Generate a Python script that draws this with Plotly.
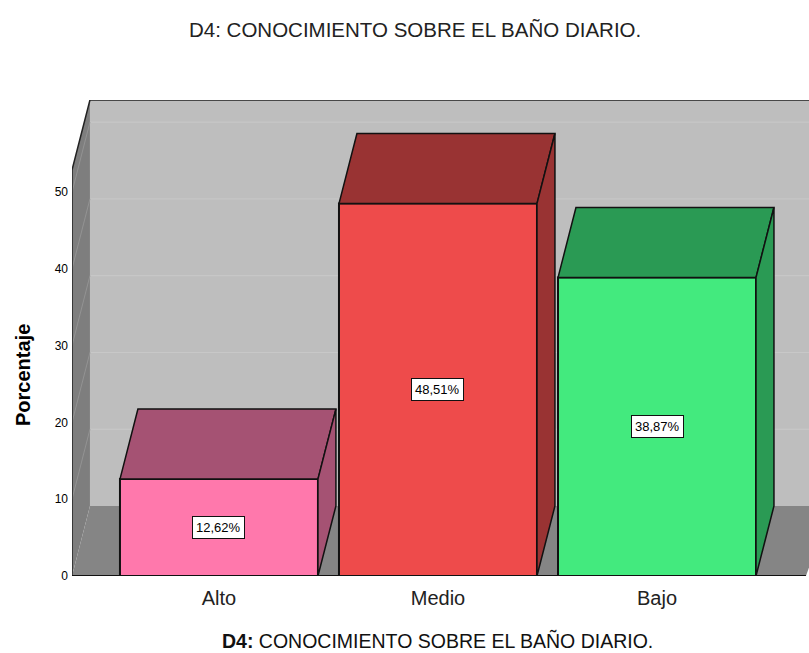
import plotly.graph_objects as go

title = "D4: CONOCIMIENTO SOBRE EL BAÑO DIARIO."
x_title = "<b>D4:</b> CONOCIMIENTO SOBRE EL BAÑO DIARIO."
y_title = "<b>Porcentaje</b>"
categories = ["Alto", "Medio", "Bajo"]
values = [12.62, 48.51, 38.87]
labels = ["12,62%", "48,51%", "38,87%"]
y_ticks = [0, 10, 20, 30, 40, 50]
front_colors = ["#FF78AC", "#EE4B4B", "#43EA7E"]
dark_colors = ["#A55273", "#993333", "#2A9A54"]

W, H = 809, 653
ML, MR, MT, MB = 72, 0, 100, 77
BAR_W = 0.904
DX, DY = 0.082, 9.12
X0, X1 = -0.671, 2.694
Y1 = 62.0
WALL_TOP = Y1 - DY
xs = list(range(len(categories)))

def px_x(p):
    return (p - ML) / (W - ML)

def px_y(p):
    return (H - MB - p) / (H - MT - MB)

def poly(px, py, color):
    path = "M " + " L ".join(f"{a},{b}" for a, b in zip(px, py)) + " Z"
    return dict(type="path", path=path, fillcolor=color, line=dict(width=0), layer="below", xref="x", yref="y")

shapes = [
    poly([X0 + DX, X1 + 0.5, X1 + 0.5, X0 + DX], [DY, DY, Y1, Y1], "#BEBEBE"),
    poly([X0, X0 + DX, X0 + DX, X0], [0, DY, Y1, WALL_TOP], "#7E7E7E"),
    poly([X0, X0 + DX, X1 + 0.1, X1 - 0.014], [0, DY, DY, 0], "#858585"),
]
for t in y_ticks[1:]:
    shapes.append(dict(type="line", x0=X0 + DX, x1=X1 + 0.5, y0=t + DY, y1=t + DY, xref="x", yref="y",
                       line=dict(color="#C9C9C9", width=1), layer="below"))
    shapes.append(dict(type="line", x0=X0, x1=X0 + DX, y0=t, y1=t + DY, xref="x", yref="y",
                       line=dict(color="#939393", width=1), layer="below"))

fig = go.Figure()
fig.add_trace(go.Bar(x=xs, y=values, width=BAR_W, marker=dict(color=front_colors, line=dict(color="#111111", width=2)),
                     showlegend=False, hoverinfo="skip"))

for x, v, dark in zip(xs, values, dark_colors):
    l, r = x - BAR_W / 2, x + BAR_W / 2
    fig.add_trace(go.Scatter(x=[l, l + DX, r + DX, r, l], y=[v, v + DY, v + DY, v, v], mode="lines", fill="toself",
                             fillcolor=dark, line=dict(color="#111111", width=1.5), showlegend=False, hoverinfo="skip"))
    fig.add_trace(go.Scatter(x=[r, r + DX, r + DX, r, r], y=[0, DY, v + DY, v, 0], mode="lines", fill="toself",
                             fillcolor=dark, line=dict(color="#111111", width=1.5), showlegend=False, hoverinfo="skip"))

fig.add_trace(go.Scatter(x=[X0, X0, X0 + DX, X1 + 0.5], y=[0, WALL_TOP, Y1, Y1], mode="lines",
                         line=dict(color="#222222", width=1.5), showlegend=False, hoverinfo="skip"))
fig.add_trace(go.Scatter(x=[X0, X1 - 0.014], y=[0, 0], mode="lines",
                         line=dict(color="#111111", width=2), showlegend=False, hoverinfo="skip"))

annotations = [
    dict(x=x, y=v / 2, text=lab, showarrow=False, bgcolor="white", bordercolor="#111111", borderwidth=1, borderpad=3,
         font=dict(family="Liberation Sans", size=13, color="black"))
    for x, v, lab in zip(xs, values, labels)
]
annotations += [
    dict(xref="paper", yref="paper", x=px_x(415), y=px_y(29), xanchor="center", yanchor="middle", text=title,
         showarrow=False, font=dict(family="Liberation Sans", size=20.5, color="#222222")),
    dict(xref="paper", yref="paper", x=px_x(437), y=px_y(640), xanchor="center", yanchor="middle", text=x_title,
         showarrow=False, font=dict(family="Liberation Sans", size=19.5, color="#111111")),
    dict(xref="paper", yref="paper", x=px_x(23), y=px_y(375), xanchor="center", yanchor="middle", text=y_title,
         textangle=-90, showarrow=False, font=dict(family="Liberation Sans", size=20, color="black")),
]

fig.update_layout(
    width=W, height=H, margin=dict(l=ML, r=MR, t=MT, b=MB), paper_bgcolor="white", plot_bgcolor="white",
    shapes=shapes, annotations=annotations, showlegend=False,
    xaxis=dict(range=[X0, X1], tickmode="array", tickvals=xs, ticktext=categories, showgrid=False, zeroline=False,
               ticks="", ticklabelstandoff=8, tickfont=dict(family="Liberation Sans", size=20, color="#222222")),
    yaxis=dict(range=[0, Y1], tickmode="array", tickvals=y_ticks, showgrid=False, zeroline=False, ticks="",
               ticklabelstandoff=3, tickfont=dict(family="Liberation Sans", size=12, color="black")),
)
fig.write_html("out.html", config={"displayModeBar": False},
               post_script="document.body.style.margin='0';document.documentElement.style.overflow='hidden';")
